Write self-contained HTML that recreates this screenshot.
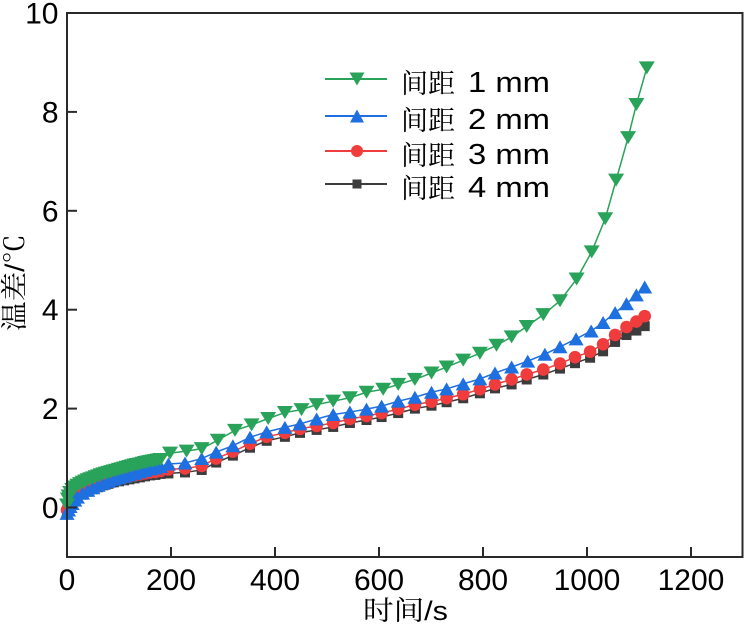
<!DOCTYPE html>
<html><head><meta charset="utf-8"><style>
html,body{margin:0;padding:0;background:#fff;}
svg{display:block;}
text{font-family:"Liberation Sans","Noto Sans CJK SC",sans-serif;fill:#000;}
text.cj{font-family:"Liberation Sans","Noto Serif CJK SC",serif;}
</style></head><body>
<svg width="746" height="627" viewBox="0 0 746 627" xmlns="http://www.w3.org/2000/svg">
<defs>
<marker id="mg" markerUnits="userSpaceOnUse" markerWidth="20" markerHeight="20" refX="10" refY="10" overflow="visible"><path d="M2,3.5 L18,3.5 L10,16.5 Z" fill="#2aa35a"/></marker>
<marker id="mb" markerUnits="userSpaceOnUse" markerWidth="20" markerHeight="20" refX="10" refY="10" overflow="visible"><path d="M2.5,16.5 L17.5,16.5 L10,3.5 Z" fill="#1e6fe0"/></marker>
<marker id="mr" markerUnits="userSpaceOnUse" markerWidth="20" markerHeight="20" refX="10" refY="10" overflow="visible"><circle cx="10" cy="10" r="6.3" fill="#f03c3c"/></marker>
<marker id="mk" markerUnits="userSpaceOnUse" markerWidth="20" markerHeight="20" refX="10" refY="10" overflow="visible"><rect x="5" y="5" width="10" height="10" fill="#3c3c3c"/></marker>
</defs>

<!-- series: black -->
<polyline fill="none" stroke="#3c3c3c" stroke-width="1.5" marker-start="url(#mk)" marker-mid="url(#mk)" marker-end="url(#mk)" points="67,512.97 68.56,509.51 70.12,506.54 72.2,503.58 74.8,500.61 77.4,498.14 82.6,494.68 87.8,491.71 93,489.24 98.2,487.26 103.4,485.28 108.6,483.8 113.8,482.31 119,481.32 124.2,480.34 129.4,479.35 134.6,478.36 139.8,477.37 145,476.38 150.2,475.39 155.4,474.9 160.6,473.91 168.4,473.42 185,472.43 201.7,469.96 216.2,462.54 232.9,455.62 250,447.71 266.7,440.79 284.9,436.83 300,432.87 316.6,429.91 333.2,426.94 349.9,422.98 366.5,420.02 381.6,417.05 398.2,413.09 414.9,408.64 431.5,405.68 446.6,402.22 463.2,398.26 479.9,393.31 495,388.37 511.6,384.42 526.7,379.48 543.3,374.53 560,368.6 575,363.17 590.1,357.73 603.1,351.31 615.1,341.92 626.5,335.01 636.4,330.57 644.7,326.13"/>

<!-- series: red -->
<polyline fill="none" stroke="#f03c3c" stroke-width="1.5" marker-start="url(#mr)" marker-mid="url(#mr)" marker-end="url(#mr)" points="67,509.97 68.56,506.51 70.12,503.54 72.2,500.58 74.8,497.61 77.4,495.14 82.6,491.68 87.8,488.71 93,486.24 98.2,484.26 103.4,482.28 108.6,480.8 113.8,479.31 119,478.32 124.2,477.34 129.4,476.35 134.6,475.36 139.8,474.37 145,473.38 150.2,472.39 155.4,471.9 160.6,470.91 168.4,469.42 185,468.43 201.7,465.96 216.2,458.54 232.9,451.62 250,443.71 266.7,436.79 284.9,432.83 300,428.87 316.6,425.91 333.2,422.94 349.9,418.98 366.5,416.02 381.6,413.05 398.2,409.09 414.9,404.64 431.5,401.68 446.6,398.22 463.2,394.26 479.9,389.31 495,384.37 511.6,379.42 526.7,374.48 543.3,369.53 560,363.6 575,357.17 590.1,351.73 603.1,344.31 615.1,334.92 626.5,327.01 636.4,321.57 644.7,316.13"/>

<!-- series: blue -->
<polyline fill="none" stroke="#1e6fe0" stroke-width="1.5" marker-start="url(#mb)" marker-mid="url(#mb)" marker-end="url(#mb)" points="67,513.43 68.56,509.97 70.12,506.51 72.2,503.54 74.8,500.08 77.4,497.12 82.6,493.16 87.8,490.19 93,487.72 98.2,485.25 103.4,483.27 108.6,481.29 113.8,479.31 119,477.83 124.2,476.35 129.4,474.86 134.6,473.38 139.8,471.9 145,470.41 150.2,468.93 155.4,467.94 160.6,466.46 168.4,463.98 185,462.99 201.7,458.54 216.2,452.12 232.9,445.69 250,437.28 266.7,431.84 284.9,427.39 300,423.93 316.6,418.98 333.2,414.53 349.9,412.06 366.5,409.09 381.6,406.13 398.2,401.18 414.9,397.23 431.5,392.28 446.6,388.82 463.2,383.87 479.9,378.93 495,373 511.6,367.06 527.7,361.13 544.9,354.2 560,346.79 576.1,338.88 591.2,330.96 603.1,322.56 615.1,312.67 626.5,303.77 636.4,294.86 644.7,286.95"/>

<!-- series: green -->
<polyline fill="none" stroke="#2aa35a" stroke-width="1.5" marker-start="url(#mg)" marker-mid="url(#mg)" marker-end="url(#mg)" points="67,505 67.8,499 68.56,496 70.12,492.5 72.2,489.5 74.8,487 77.4,485.2 80,483.6 82.6,482.28 85.2,481 87.8,479.81 90.4,478.8 93,477.83 95.6,476.8 98.2,475.85 100.8,474.8 103.4,473.87 106,473.1 108.6,472.39 111.2,471.6 113.8,470.91 116.4,470.2 119,469.42 121.6,468.7 124.2,467.94 126.8,467.2 129.4,466.46 132,465.7 134.6,464.97 137.2,464.5 139.8,463.98 142.4,463.2 145,462.5 147.6,462 150.2,461.51 152.8,461 155.4,460.52 158,460 160.6,459.53 170,453.1 186.6,451.13 201.7,448.65 217.8,440.25 235,430.36 251.6,424.92 268.2,418.49 284.9,412.56 301.5,409.59 316.6,404.64 333.2,401.18 349.9,397.72 366.5,392.28 383.2,389.31 398.2,384.37 414.9,379.42 431.5,373 446.6,367.06 463.2,360.14 479.9,353.22 496.5,345.3 511.6,336.9 526.7,326.5 543.3,314.64 560,300.8 576.6,279.04 591.7,251.84 605.2,218.71 616.1,180.14 628.1,137.61 636.4,104.48 646.8,67.89"/>

<!-- frame -->
<rect x="67" y="13" width="675.5" height="544" fill="none" stroke="#2a2a2a" stroke-width="2"/>
<g stroke="#2a2a2a" stroke-width="2">
<line x1="171" y1="557" x2="171" y2="547"/>
<line x1="275" y1="557" x2="275" y2="547"/>
<line x1="379" y1="557" x2="379" y2="547"/>
<line x1="483" y1="557" x2="483" y2="547"/>
<line x1="587" y1="557" x2="587" y2="547"/>
<line x1="691" y1="557" x2="691" y2="547"/>
<line x1="67" y1="111.9" x2="77" y2="111.9"/>
<line x1="67" y1="210.8" x2="77" y2="210.8"/>
<line x1="67" y1="309.7" x2="77" y2="309.7"/>
<line x1="67" y1="408.6" x2="77" y2="408.6"/>
<line x1="67" y1="507.5" x2="77" y2="507.5"/>
</g>

<!-- tick labels -->
<g font-size="30" text-anchor="middle">
<text x="67" y="590">0</text>
<text x="171" y="590">200</text>
<text x="275" y="590">400</text>
<text x="379" y="590">600</text>
<text x="483" y="590">800</text>
<text x="587" y="590">1000</text>
<text x="691" y="590">1200</text>
</g>
<g font-size="30" text-anchor="end">
<text x="58.5" y="23.5">10</text>
<text x="58.5" y="122.4">8</text>
<text x="58.5" y="221.3">6</text>
<text x="58.5" y="320.2">4</text>
<text x="58.5" y="419.1">2</text>
<text x="58.5" y="518">0</text>
</g>

<!-- axis titles -->
<text class="cj" x="363" y="620" font-size="27" textLength="85" lengthAdjust="spacingAndGlyphs">时间/s</text>
<text class="cj" transform="translate(24,331) rotate(-90)" font-size="27" textLength="97" lengthAdjust="spacingAndGlyphs">温差/℃</text>

<!-- legend -->
<g stroke-width="2">
<line x1="325" y1="79" x2="387" y2="79" stroke="#2aa35a"/>
<line x1="325" y1="116" x2="387" y2="116" stroke="#1e6fe0"/>
<line x1="325" y1="151" x2="387" y2="151" stroke="#f03c3c"/>
<line x1="325" y1="184" x2="387" y2="184" stroke="#3c3c3c"/>
</g>
<path d="M349.5,72.5 L364.5,72.5 L357,85.5 Z" fill="#2aa35a"/>
<path d="M350,122.5 L364,122.5 L357,109.5 Z" fill="#1e6fe0"/>
<circle cx="357" cy="151" r="6" fill="#f03c3c"/>
<rect x="352.5" y="179.5" width="9" height="9" fill="#3c3c3c"/>
<g font-size="27">
<text class="cj" x="401" y="93">间距</text>
<text class="cj" x="401" y="130">间距</text>
<text class="cj" x="401" y="165">间距</text>
<text class="cj" x="401" y="198">间距</text>
</g>
<g font-size="29">
<text x="468" y="92" textLength="82" lengthAdjust="spacingAndGlyphs">1 mm</text>
<text x="468" y="129" textLength="82" lengthAdjust="spacingAndGlyphs">2 mm</text>
<text x="468" y="164" textLength="82" lengthAdjust="spacingAndGlyphs">3 mm</text>
<text x="468" y="197" textLength="82" lengthAdjust="spacingAndGlyphs">4 mm</text>
</g>
</svg>
</body></html>
